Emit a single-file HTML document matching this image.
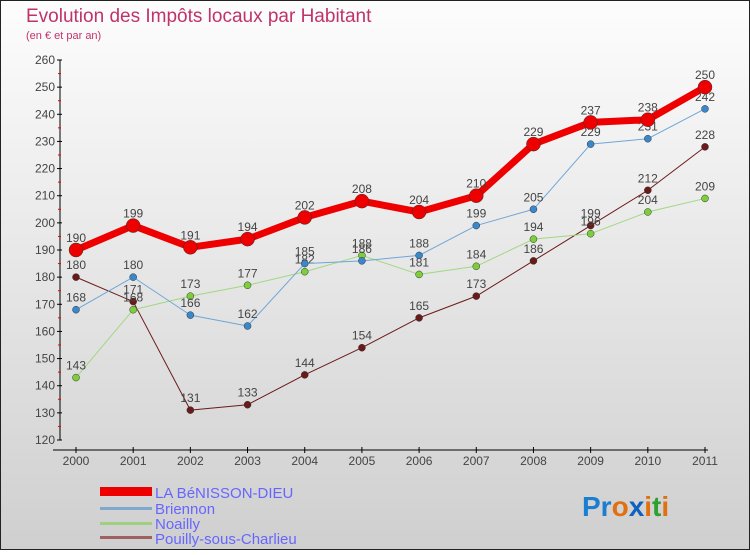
<!DOCTYPE html>
<html><head><meta charset="utf-8"><style>
body{margin:0;width:750px;height:550px;overflow:hidden;font-family:"Liberation Sans",sans-serif}
</style></head><body>
<svg width="750" height="550" xmlns="http://www.w3.org/2000/svg" font-family="Liberation Sans, sans-serif">
<defs><linearGradient id="bg" x1="0" y1="0" x2="0" y2="1"><stop offset="0" stop-color="#fdfdfd"/><stop offset="1" stop-color="#cfcfcf"/></linearGradient></defs>
<rect x="0.5" y="0.5" width="749" height="549" fill="url(#bg)" stroke="#222"/>
<text x="26" y="22" font-size="19" fill="#c0336a">Evolution des Impôts locaux par Habitant</text>
<text x="26" y="39" font-size="11" fill="#c0336a">(en € et par an)</text>
<g id="axes"></g>
<g id="series"></g>
<g font-size="15" fill="#6666ff">
<rect x="100" y="487" width="52" height="9" fill="#e00"/>
<text x="155" y="498">LA BéNISSON-DIEU</text>
<rect x="100" y="507" width="52" height="3" fill="#7fa8d0"/>
<text x="155" y="514">Briennon</text>
<rect x="100" y="522" width="52" height="3" fill="#9fd080"/>
<text x="155" y="529">Noailly</text>
<rect x="100" y="536" width="52" height="3" fill="#a06060"/>
<text x="155" y="544">Pouilly-sous-Charlieu</text>
</g>
<g font-size="28" font-weight="bold">
<text x="582" y="516"><tspan fill="#1a7fd0">Pr</tspan><tspan fill="#e07010">o</tspan><tspan fill="#1060c0">x</tspan><tspan fill="#e07010">i</tspan><tspan fill="#30a030">t</tspan><tspan fill="#e07010">i</tspan></text>
</g>
</svg>
<script>
const years=["2000","2001","2002","2003","2004","2005","2006","2007","2008","2009","2010","2011"];
const yTicks=[120,130,140,150,160,170,180,190,200,210,220,230,240,250,260];
const laBenisson=[190,199,191,194,202,208,204,210,229,237,238,250];
const briennon=[168,180,166,162,185,186,188,199,205,229,231,242];
const noailly=[143,168,173,177,182,188,181,184,194,196,204,209];
const pouilly=[180,171,131,133,144,154,165,173,186,199,212,228];
const NS="http://www.w3.org/2000/svg";
const X=i=>76+i*(705-76)/(years.length-1);
const Y=v=>440-(v-120)*380/140;
function mk(t,a,p){const e=document.createElementNS(NS,t);for(const k in a)e.setAttribute(k,a[k]);p.appendChild(e);return e;}
const ax=document.getElementById('axes');
const yl=mk('line',{x1:60,y1:Y(260),x2:60,y2:Y(120),stroke:'#000'},ax);


yTicks.forEach(v=>{
 mk('line',{x1:57,x2:62,y1:Y(v),y2:Y(v),stroke:'#000'},ax);
 if(v<260)mk('line',{x1:58,x2:61,y1:Y(v+5),y2:Y(v+5),stroke:'#e00'},ax);
 const t=mk('text',{x:55,y:Y(v)+4,'text-anchor':'end','font-size':12,fill:'#444'},ax);
 
 
 t.textContent=v;
});
const xl=mk('line',{x1:53,y1:450,x2:708,y2:450,stroke:'#000'},ax);


years.forEach((y,i)=>{
 mk('line',{x1:X(i),x2:X(i),y1:447,y2:453,stroke:'#000'},ax);
 const t=mk('text',{x:X(i),y:465,'text-anchor':'middle','font-size':12,fill:'#444'},ax);
 
 
 t.textContent=y;
});
const sg=document.getElementById('series');
function draw(data,name,color,w,r,dot){
 const g=mk('g',{},sg);
 
 
 const p=mk('polyline',{points:data.map((v,i)=>X(i)+','+Y(v)).join(' '),fill:'none',stroke:color,'stroke-width':w,'stroke-linejoin':'round'},g);
 
 
 data.forEach((v,i)=>{
  const c=mk('circle',{cx:X(i),cy:Y(v),r:r,fill:dot,stroke:'#333','stroke-width':0.5},g);
  
  
  const t=mk('text',{x:X(i),y:Y(v)-8,'text-anchor':'middle','font-size':12,fill:'#444'},g);
  
  
  t.textContent=v;
 });
}
draw(pouilly,'pouilly','#6b1a1a',1,3.5,'#6b1a1a');
draw(noailly,'noailly','#a0d880',1,3.5,'#7ccf3a');
draw(briennon,'briennon','#6ea6d6',1,3.5,'#3a88cc');
draw(laBenisson,'la-benisson-dieu','#ee0000',7,7,'#ee0000');
</script>
</body></html>
